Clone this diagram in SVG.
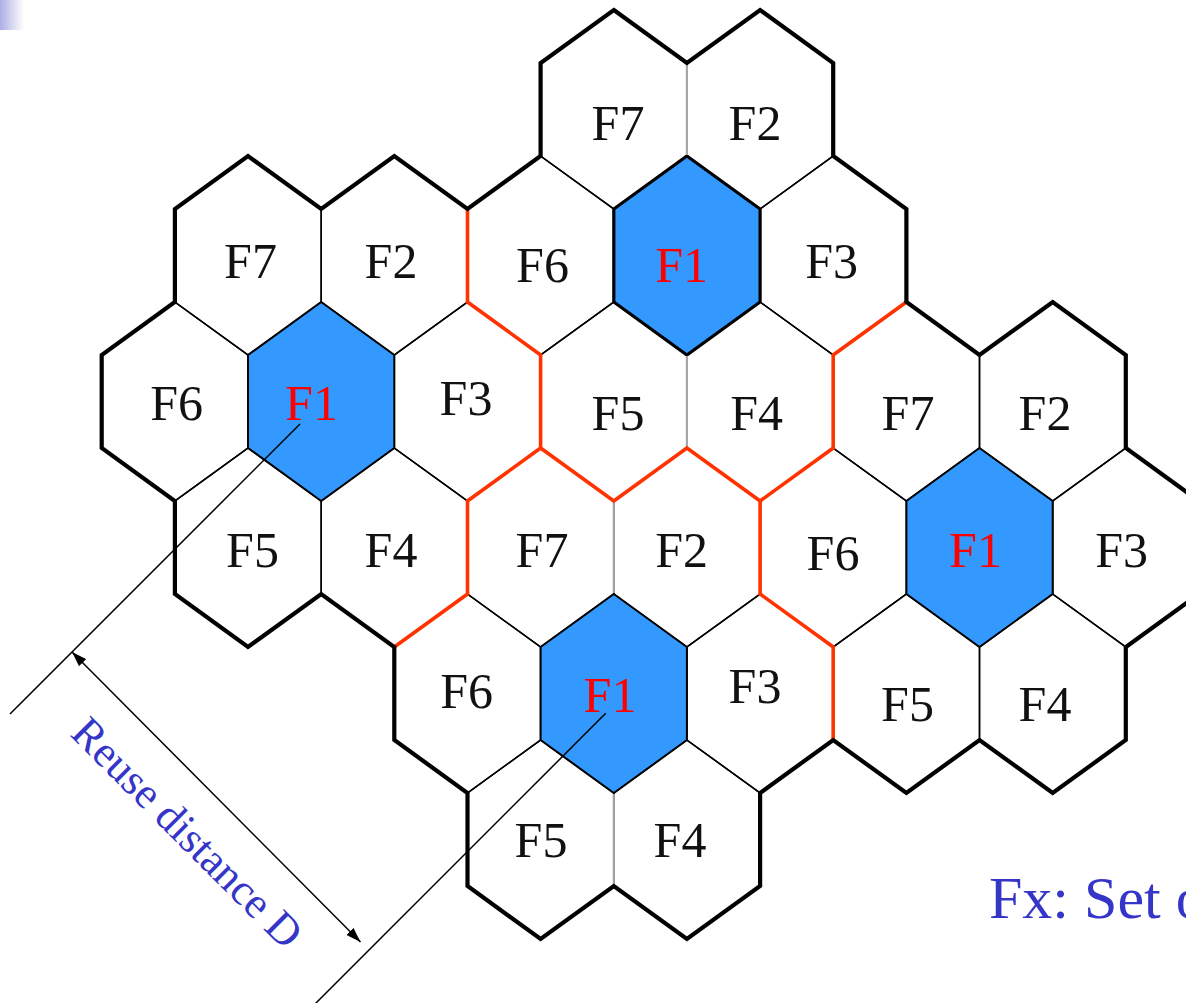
<svg xmlns="http://www.w3.org/2000/svg" width="1186" height="1003" viewBox="0 0 1186 1003">
<defs>
<linearGradient id="corner" x1="0" y1="0" x2="1" y2="0">
<stop offset="0" stop-color="#aeaee6"/>
<stop offset="1" stop-color="#aeaee6" stop-opacity="0"/>
</linearGradient>
<marker id="ah" markerUnits="userSpaceOnUse" markerWidth="16" markerHeight="10" refX="15" refY="5" orient="auto-start-reverse">
<path d="M0,0 L15,5 L0,10 Z" fill="#000"/>
</marker>
<style>
.cell{fill:none;stroke:#000;stroke-width:1.5;stroke-linejoin:miter}
.blue{fill:#3399ff;stroke:#000;stroke-width:2}
.blue-top{fill:#3399ff;stroke:#000;stroke-width:3.2}
.lbl{font-family:"Liberation Serif","Times New Roman",serif;font-size:50px;fill:#111;text-anchor:middle}
.red-lbl{fill:#ff0000}
.gray{fill:none;stroke:#a6a6a6;stroke-width:2.2}
.redline{fill:none;stroke:#ff3300;stroke-width:3.6;stroke-linejoin:miter}
.border{fill:none;stroke:#000;stroke-width:4.2;stroke-linejoin:miter}
.dim{fill:none;stroke:#000;stroke-width:1.5}
.note{font-family:"Liberation Serif","Times New Roman",serif;fill:#3535c8}
</style>
</defs>
<rect x="0" y="0" width="1186" height="1003" fill="#fff"/>
<rect x="0" y="0" width="24" height="30" fill="url(#corner)"/>

<g id="hex-r0-F7"><polygon class="cell" points="613.8,10 686.9,63 686.9,156 613.8,209 540.6,156 540.6,63"/><text class="lbl" x="618" y="140">F7</text></g>
<g id="hex-r0-F2"><polygon class="cell" points="760.1,10 833.2,63 833.2,156 760.1,209 686.9,156 686.9,63"/><text class="lbl" x="755" y="140">F2</text></g>

<g id="hex-r1-F7"><polygon class="cell" points="248,156 321.2,209 321.2,302 248,355 174.9,302 174.9,209"/><text class="lbl" x="250.5" y="278">F7</text></g>
<g id="hex-r1-F2"><polygon class="cell" points="394.3,156 467.5,209 467.5,302 394.3,355 321.2,302 321.2,209"/><text class="lbl" x="391" y="278">F2</text></g>
<g id="hex-r1-F6"><polygon class="cell" points="540.6,156 613.8,209 613.8,302 540.6,355 467.5,302 467.5,209"/><text class="lbl" x="542.5" y="281.7">F6</text></g>
<g id="hex-r1-F3"><polygon class="cell" points="833.2,156 906.4,209 906.4,302 833.2,355 760.1,302 760.1,209"/><text class="lbl" x="831.7" y="278">F3</text></g>

<g id="hex-r2-F6"><polygon class="cell" points="174.9,302 248,355 248,448 174.9,501 101.7,448 101.7,355"/><text class="lbl" x="176.7" y="420">F6</text></g>
<g id="hex-r2-F3"><polygon class="cell" points="467.5,302 540.6,355 540.6,448 467.5,501 394.3,448 394.3,355"/><text class="lbl" x="466" y="415">F3</text></g>
<g id="hex-r2-F5"><polygon class="cell" points="613.8,302 686.9,355 686.9,448 613.8,501 540.6,448 540.6,355"/><text class="lbl" x="618" y="430">F5</text></g>
<g id="hex-r2-F4"><polygon class="cell" points="760.1,302 833.2,355 833.2,448 760.1,501 686.9,448 686.9,355"/><text class="lbl" x="756.7" y="430">F4</text></g>
<g id="hex-r2-F7"><polygon class="cell" points="906.4,302 979.5,355 979.5,448 906.4,501 833.2,448 833.2,355"/><text class="lbl" x="908" y="430">F7</text></g>
<g id="hex-r2-F2"><polygon class="cell" points="1052.7,302 1125.8,355 1125.8,448 1052.7,501 979.5,448 979.5,355"/><text class="lbl" x="1045" y="430">F2</text></g>

<g id="hex-r3-F5"><polygon class="cell" points="248,448 321.2,501 321.2,594 248,647 174.9,594 174.9,501"/><text class="lbl" x="252.5" y="566.7">F5</text></g>
<g id="hex-r3-F4"><polygon class="cell" points="394.3,448 467.5,501 467.5,594 394.3,647 321.2,594 321.2,501"/><text class="lbl" x="391" y="566.7">F4</text></g>
<g id="hex-r3-F7"><polygon class="cell" points="540.6,448 613.8,501 613.8,594 540.6,647 467.5,594 467.5,501"/><text class="lbl" x="542" y="566.7">F7</text></g>
<g id="hex-r3-F2"><polygon class="cell" points="686.9,448 760.1,501 760.1,594 686.9,647 613.8,594 613.8,501"/><text class="lbl" x="681.7" y="566.7">F2</text></g>
<g id="hex-r3-F6"><polygon class="cell" points="833.2,448 906.4,501 906.4,594 833.2,647 760.1,594 760.1,501"/><text class="lbl" x="833" y="570">F6</text></g>
<g id="hex-r3-F3"><polygon class="cell" points="1125.8,448 1199,501 1199,594 1125.8,647 1052.7,594 1052.7,501"/><text class="lbl" x="1121.7" y="567">F3</text></g>

<g id="hex-r4-F6"><polygon class="cell" points="467.5,594 540.6,647 540.6,740 467.5,793 394.3,740 394.3,647"/><text class="lbl" x="466.7" y="708">F6</text></g>
<g id="hex-r4-F3"><polygon class="cell" points="760.1,594 833.2,647 833.2,740 760.1,793 686.9,740 686.9,647"/><text class="lbl" x="755" y="703">F3</text></g>
<g id="hex-r4-F5"><polygon class="cell" points="906.4,594 979.5,647 979.5,740 906.4,793 833.2,740 833.2,647"/><text class="lbl" x="907.5" y="720.7">F5</text></g>
<g id="hex-r4-F4"><polygon class="cell" points="1052.7,594 1125.8,647 1125.8,740 1052.7,793 979.5,740 979.5,647"/><text class="lbl" x="1045" y="720.7">F4</text></g>

<g id="hex-r5-F5"><polygon class="cell" points="540.6,740 613.8,793 613.8,886 540.6,939 467.5,886 467.5,793"/><text class="lbl" x="541" y="856.7">F5</text></g>
<g id="hex-r5-F4"><polygon class="cell" points="686.9,740 760.1,793 760.1,886 686.9,939 613.8,886 613.8,793"/><text class="lbl" x="680" y="856.7">F4</text></g>

<g id="hex-r1-F1"><polygon class="blue-top" points="686.9,156 760.1,209 760.1,302 686.9,355 613.8,302 613.8,209"/><text class="lbl red-lbl" x="681.7" y="282">F1</text></g>
<g id="hex-r2-F1"><polygon class="blue" points="321.2,302 394.3,355 394.3,448 321.2,501 248,448 248,355"/><text class="lbl red-lbl" x="311.5" y="420">F1</text></g>
<g id="hex-r3-F1"><polygon class="blue" points="979.5,448 1052.7,501 1052.7,594 979.5,647 906.4,594 906.4,501"/><text class="lbl red-lbl" x="975.5" y="567">F1</text></g>
<g id="hex-r4-F1"><polygon class="blue" points="613.8,594 686.9,647 686.9,740 613.8,793 540.6,740 540.6,647"/><text class="lbl red-lbl" x="610" y="711.7">F1</text></g>

<g id="light-edges">
<line class="gray" x1="686.9" y1="64" x2="686.9" y2="155"/>
<line class="gray" x1="686.9" y1="356" x2="686.9" y2="447"/>
<line class="gray" x1="613.8" y1="502" x2="613.8" y2="593"/>
<line class="gray" x1="613.8" y1="794" x2="613.8" y2="885"/>
</g>

<g id="cluster-boundaries">
<polyline class="redline" points="467.5,209 467.5,302 540.6,355 540.6,448 467.5,501 467.5,594 394.3,647"/>
<polyline class="redline" points="540.6,448 613.8,501 686.9,448 760.1,501 833.2,448 833.2,355 906.4,302"/>
<polyline class="redline" points="760.1,501 760.1,594 833.2,647 833.2,740"/>
</g>

<g id="outer-border">
<path class="border" d="M613.8,10 L686.9,63 L760.1,10 L833.2,63 L833.2,156 L906.4,209 L906.4,302 L979.5,355 L1052.7,302 L1125.8,355 L1125.8,448 L1199,501 L1199,594 L1125.8,647 L1125.8,740 L1052.7,793 L979.5,740 L906.4,793 L833.2,740 L760.1,793 L760.1,886 L686.9,939 L613.8,886 L540.6,939 L467.5,886 L467.5,793 L394.3,740 L394.3,647 L321.2,594 L248,647 L174.9,594 L174.9,501 L101.7,448 L101.7,355 L174.9,302 L174.9,209 L248,156 L321.2,209 L394.3,156 L467.5,209 L540.6,156 L540.6,63 Z"/>
</g>

<g id="connectors">
<line class="dim" x1="300" y1="424" x2="10" y2="714"/>
<line class="dim" x1="605.7" y1="713.3" x2="314" y2="1005"/>
<line class="dim" x1="72" y1="652" x2="360.5" y2="942" marker-start="url(#ah)" marker-end="url(#ah)"/>
</g>

<g id="labels">
<text class="note" font-size="44" transform="translate(69,735) rotate(45)">Reuse distance D</text>
<text class="note" font-size="60" x="989" y="918">Fx: Set o</text>
</g>
</svg>
